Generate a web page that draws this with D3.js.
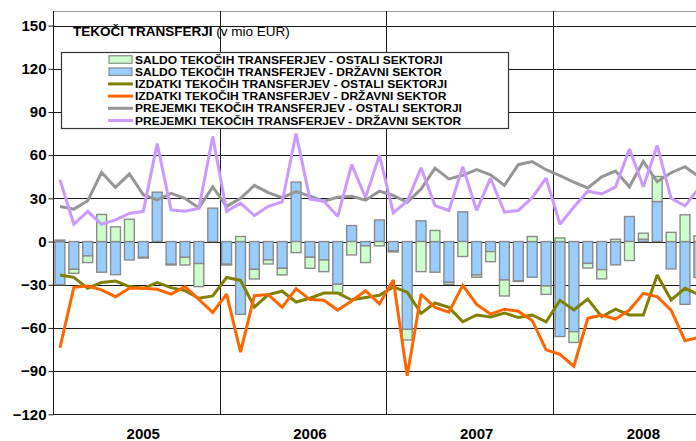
<!DOCTYPE html>
<html>
<head>
<meta charset="utf-8">
<script src="https://cdn.jsdelivr.net/npm/d3@7"></script>
<style>
  html, body { margin: 0; padding: 0; background: #fff; }
  svg { display: block; font-family: "Liberation Sans", Arial, sans-serif; }
</style>
</head>
<body>
<svg id="chart" width="696" height="441"></svg>
<script>
// ---------------- DATA ----------------
const years = ["2005", "2006", "2007", "2008"];
const monthCount = 48; // Jan 2005 .. Dec 2008
const yTicks = [-120, -90, -60, -30, 0, 30, 60, 90, 120, 150];

const seriesNames = [
  "SALDO TEKOČIH TRANSFERJEV - OSTALI SEKTORJI",
  "SALDO TEKOČIH TRANSFERJEV - DRŽAVNI SEKTOR",
  "IZDATKI TEKOČIH TRANSFERJEV - OSTALI SEKTORJI",
  "IZDATKI TEKOČIH TRANSFERJEV - DRŽAVNI SEKTOR",
  "PREJEMKI TEKOČIH TRANSFERJEV - OSTALI SEKTORJI",
  "PREJEMKI TEKOČIH TRANSFERJEV - DRŽAVNI SEKTOR"
];

// saldo - državni sektor (blue bars)
const saldoDrzavni = [
  -30, -19.3, -10, -21.3, -23, -12.8, -11, 34.3, -15.8, -11, -15.3, 23.2,
  -15.8, -50.6, -19.3, -12.8, -18.6, 41.3, -10.9, -12.8, -29.7, 11.1, -3, 15,
  -6.5, -61, 14.4, -21.3, -28.3, 20.6, -23.2, -7, -26.7, -27.2, -24.8, -30.9,
  -66, -62.6, -15.2, -19.5, -16.2, 17.4, 1.6, 27.8, -19, -43.6, -25
];
// saldo - ostali sektorji (green bars)
const saldoOstali = [
  1, -2.8, -4.6, 18.8, 10.2, 15.5, -0.5, 0, -0.5, -5.3, -16, 0,
  -0.5, 3.5, -6.7, -2.8, -4.6, -7.7, -7.7, -8.1, -5.8, -9.3, -11.6, -3,
  -0.7, -7.4, -20.9, 7.7, -1.4, -10.4, -1.6, -7, -11.1, -0.5, 3.5, -5.8,
  2.5, -7.5, -3.2, -6.4, 1.6, -13.2, 4.2, 17.4, 6.4, 18.6, 4
];
// izdatki - ostali sektorji (olive)
const izdatkiOstali = [
  -23.3, -24.9, -32.5, -28.4, -27.4, -31.3, -32.5, -28.5, -32, -34.1, -39.4, -37.8,
  -25, -27, -45.5, -36.8, -34.5, -42, -39.4, -35.8, -35.8, -40.6, -38.8, -37.3,
  -31.5, -35.2, -49.9, -42.7, -45.7, -55.7, -51, -52.4, -49.6, -52.8, -51, -55.7,
  -40.8, -47.5, -39.9, -52.2, -46.9, -51, -51, -23.2, -40.6, -32.5, -37
];
// izdatki - državni sektor (orange)
const izdatkiDrzavni = [
  -73.8, -31.8, -30.9, -33.6, -38.3, -32.5, -32.5, -33.2, -36.5, -31.3, -40.2, -49.3,
  -36.5, -76.8, -37.6, -36.8, -45.7, -32.7, -40.3, -40.8, -47.6, -41.3, -34.2, -43.3,
  -26.7, -93.2, -36.6, -45.7, -49, -30.4, -43.7, -50.4, -47, -48.4, -54.8, -75.2,
  -78.3, -86.6, -53.3, -51, -53.8, -47.6, -36, -38.3, -47.6, -68.9, -66.5
];
// prejemki - ostali sektorji (gray)
const prejemkiOstali = [
  24.4, 22.5, 28.3, 48, 37.6, 47, 32.5, 29, 33.5, 30, 23.3, 38,
  24.4, 30, 39, 34, 30.5, 34.7, 31.5, 28, 30.8, 31.5, 28.7, 35,
  32, 27.2, 36.5, 51, 43.5, 46, 49.9, 46.4, 39, 53.4, 55.5, 49.9,
  45.8, 41.2, 37.2, 45, 49, 38, 55.7, 41.5, 47.8, 52, 45
];
// prejemki - državni sektor (purple)
const prejemkiDrzavni = [
  42.9, 12, 21, 12, 15, 19.5, 21, 68, 22, 21, 23, 73,
  21, 26.7, 18, 24.5, 27.5, 75, 29.5, 28, 17.4, 53.5, 30.5, 60,
  20, 28, 51.2, 25, 21.6, 52, 21.6, 44, 20.5, 21.6, 30.5, 44,
  12, 24, 35, 33, 38, 64.3, 38, 66.7, 30, 24.8, 37
];

// ---------------- STYLE / LAYOUT ----------------
const W = 696, H = 441;
const plotLeft = 53, plotTop = 11, monthStep = 13.89;
const colors = {
  green: "#ccffcc", blue: "#99ccff", olive: "#808000",
  orange: "#ff6600", gray: "#969696", purple: "#cc99ff",
  barStroke: "#8a8a8a"
};

const svg = d3.select("#chart");

const x = d3.scaleBand()
  .domain(d3.range(monthCount))
  .range([plotLeft, plotLeft + monthCount * monthStep])
  .paddingInner(0.29)
  .paddingOuter(0.145);
const cx = i => x(i) + x.bandwidth() / 2;
const boundary = i => x.range()[0] + i * x.step();

const y = d3.scaleLinear().domain([-120, 150]).range([414.3, 25.6]);

// plot frame top
svg.append("line")
  .attr("x1", plotLeft).attr("x2", W).attr("y1", plotTop + 0.5).attr("y2", plotTop + 0.5)
  .attr("stroke", "#9a9a9a").attr("stroke-width", 1);

// horizontal gridlines
svg.append("g").selectAll("line").data(yTicks).join("line")
  .attr("x1", plotLeft).attr("x2", W)
  .attr("y1", d => Math.round(y(d)) + 0.5).attr("y2", d => Math.round(y(d)) + 0.5)
  .attr("stroke", "#1a1a1a").attr("stroke-width", 1);

// vertical year separators
svg.append("g").selectAll("line").data(d3.range(1, years.length)).join("line")
  .attr("x1", d => Math.round(boundary(d * 12)) + 0.5)
  .attr("x2", d => Math.round(boundary(d * 12)) + 0.5)
  .attr("y1", plotTop).attr("y2", y(-120))
  .attr("stroke", "#1a1a1a").attr("stroke-width", 1);

// y axis
const yAxis = d3.axisLeft(y).tickValues(yTicks).tickSize(5).tickPadding(2).tickFormat(d3.format("d"));
const gy = svg.append("g").attr("transform", `translate(${plotLeft + 0.5},0)`).call(yAxis);
gy.select(".domain").remove();
gy.selectAll(".tick line").attr("stroke", "#1a1a1a");
gy.selectAll(".tick text")
  .attr("font-family", "Liberation Sans, Arial, sans-serif")
  .attr("font-size", 15).attr("font-weight", "bold").attr("fill", "#000");
svg.append("line")
  .attr("x1", plotLeft + 0.5).attr("x2", plotLeft + 0.5)
  .attr("y1", plotTop).attr("y2", y(-120) + 0.5)
  .attr("stroke", "#1a1a1a").attr("stroke-width", 1);

// stacked bars (diverging)
const stackRows = d3.range(saldoDrzavni.length).map(i => ({
  i, drz: saldoDrzavni[i], ost: saldoOstali[i]
}));
const stacked = d3.stack().keys(["drz", "ost"]).offset(d3.stackOffsetDiverging)(stackRows);
const barFill = { drz: colors.blue, ost: colors.green };
svg.append("g").selectAll("g").data(stacked).join("g")
  .attr("fill", d => barFill[d.key])
  .selectAll("rect").data(d => d).join("rect")
  .attr("x", d => x(d.data.i))
  .attr("width", x.bandwidth())
  .attr("y", d => y(Math.max(d[0], d[1])))
  .attr("height", d => Math.abs(y(d[0]) - y(d[1])))
  .attr("stroke", colors.barStroke).attr("stroke-width", 1.4);

// lines
const lineSeries = [
  { values: izdatkiOstali, color: colors.olive },
  { values: izdatkiDrzavni, color: colors.orange },
  { values: prejemkiOstali, color: colors.gray },
  { values: prejemkiDrzavni, color: colors.purple }
];
const line = d3.line().x((d, i) => cx(i)).y(d => y(d));
svg.append("g").selectAll("path").data(lineSeries).join("path")
  .attr("d", d => line(d.values))
  .attr("fill", "none").attr("stroke", d => d.color)
  .attr("stroke-width", 3).attr("stroke-linejoin", "miter").attr("stroke-miterlimit", 2);

// x labels
svg.append("g").selectAll("text").data(years).join("text")
  .attr("x", (d, k) => cx(k * 12 + 6)).attr("y", 439)
  .attr("text-anchor", "middle")
  .attr("font-size", 15).attr("font-weight", "bold").text(d => d);

// title
const title = svg.append("text").attr("x", 73).attr("y", 36).attr("font-size", 13.5);
title.append("tspan").attr("font-weight", "bold").text("TEKOČI TRANSFERJI");
title.append("tspan").attr("font-weight", "normal").text(" (v mio EUR)");

// legend
const lg = svg.append("g");
lg.append("rect").attr("x", 61.5).attr("y", 52.5).attr("width", 447).attr("height", 76)
  .attr("fill", "#fff").attr("stroke", "#333").attr("stroke-width", 1.2);
const legendItems = [
  { name: seriesNames[0], type: "bar", color: colors.green },
  { name: seriesNames[1], type: "bar", color: colors.blue },
  { name: seriesNames[2], type: "line", color: colors.olive },
  { name: seriesNames[3], type: "line", color: colors.orange },
  { name: seriesNames[4], type: "line", color: colors.gray },
  { name: seriesNames[5], type: "line", color: colors.purple }
];
const rowY = k => 59.5 + k * 12.2;
const items = lg.selectAll("g.item").data(legendItems).join("g").attr("class", "item");
items.filter(d => d.type === "bar").append("rect")
  .attr("x", 109).attr("width", 23).attr("height", 7.5)
  .attr("fill", d => d.color).attr("stroke", colors.barStroke).attr("stroke-width", 1.2);
items.filter(d => d.type === "line").append("line")
  .attr("x1", 108).attr("x2", 133)
  .attr("stroke", d => d.color).attr("stroke-width", 3);
items.each(function(d, k) {
  const g = d3.select(this);
  g.select("rect").attr("y", rowY(k) - 3.75);
  g.select("line").attr("y1", rowY(k)).attr("y2", rowY(k));
});
// measure natural width at 12px, then draw slightly shorter glyphs stretched to that width
const probe = svg.append("text").attr("font-size", 12).attr("font-weight", "bold");
const natural = legendItems.map(d => { probe.text(d.name); return probe.node().getComputedTextLength(); });
probe.remove();
items.append("text")
  .attr("x", 135).attr("y", (d, k) => rowY(k) + 4)
  .attr("font-size", 10.7).attr("font-weight", "bold")
  .attr("textLength", (d, k) => natural[k])
  .attr("lengthAdjust", "spacingAndGlyphs")
  .text(d => d.name);
</script>
</body>
</html>
